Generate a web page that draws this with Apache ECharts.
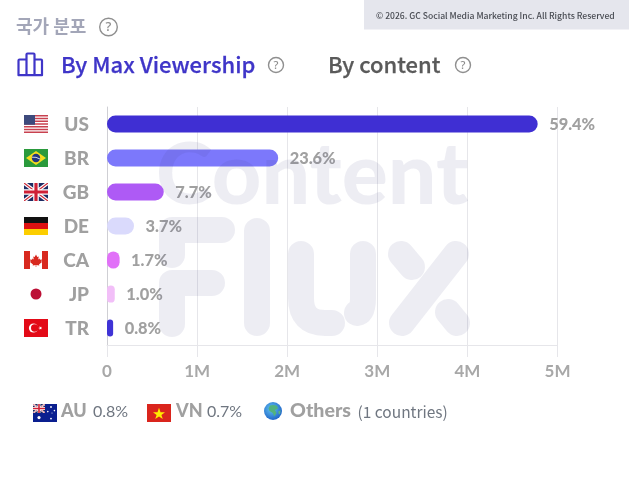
<!DOCTYPE html>
<html><head><meta charset="utf-8">
<style>html,body{margin:0;padding:0;background:#fff}#c{width:629px;height:481px}</style>
<script src="https://cdn.jsdelivr.net/npm/echarts@6/dist/echarts.min.js"></script>
</head><body><div id="c"></div>
<script>
const countries = ['US','BR','GB','DE','CA','JP','TR'];
const viewers = [4780000,1900000,630000,300000,140000,86000,68000];
const shares = ['59.4%','23.6%','7.7%','3.7%','1.7%','1.0%','0.8%'];
const barColors = ['#3f2fd3','#7c78fb','#ae5af5','#dadafc','#e171f8','#f2bff8','#3f33d6'];
const xTicks = ['0','1M','2M','3M','4M','5M'];
const otherCountries = ['AU','VN'];
const otherShares = ['0.8%','0.7%'];

const svg = (w,h,b)=>'data:image/svg+xml;charset=utf-8,'+encodeURIComponent(`<svg xmlns="http://www.w3.org/2000/svg" width="${w*4}" height="${h*4}" viewBox="0 0 ${w} ${h}">${b}</svg>`);
let usStripes='';for(let i=0;i<7;i++)usStripes+=`<rect y="${i*18/6.5}" width="24" height="${18/13}" fill="#c8414f"/>`;
const ukCross=`<rect width="24" height="18" fill="#1d2b63"/><path d="M0 0L24 18M24 0L0 18" stroke="#fff" stroke-width="3.6"/><path d="M0 0L24 18M24 0L0 18" stroke="#cf2b3a" stroke-width="1.2"/><path d="M12 0V18M0 9H24" stroke="#fff" stroke-width="5.6"/><path d="M12 0V18M0 9H24" stroke="#cf2036" stroke-width="3.2"/>`;
const flags = {
 US: svg(24,18,`<rect width="24" height="18" fill="#fff"/>${usStripes}<rect width="11" height="9.7" fill="#3d4a7c"/>`),
 BR: svg(24,18,`<rect width="24" height="18" fill="#2a9a3c"/><path d="M12 2L22 9L12 16L2 9Z" fill="#f4dc1e"/><circle cx="12" cy="9" r="4.2" fill="#23347f"/><path d="M8 8.2Q12 7.6 16 10" stroke="#fff" fill="none" stroke-width=".8"/>`),
 GB: svg(24,18,ukCross),
 DE: svg(24,18,`<rect width="24" height="6" fill="#111"/><rect y="6" width="24" height="6" fill="#dd1111"/><rect y="12" width="24" height="6" fill="#fcce00"/>`),
 CA: svg(24,18,`<rect width="24" height="18" fill="#fff"/><rect width="6" height="18" fill="#d8291f"/><rect x="18" width="6" height="18" fill="#d8291f"/><path d="M12 3.6L13.3 6L14.8 5.4L14.2 8.6L15.6 7.6L16 8.8L18 8.5L17.4 10.6L18 11L15 13.4L15.3 14.4L12.3 14L12.3 16H11.7L11.7 14L8.7 14.4L9 13.4L6 11L6.6 10.6L6 8.5L8 8.8L8.4 7.6L9.8 8.6L9.2 5.4L10.7 6Z" fill="#d8291f"/>`),
 JP: svg(24,18,`<rect width="24" height="18" fill="#fff"/><circle cx="12" cy="9" r="5.5" fill="#bc0f35"/>`),
 TR: svg(24,18,`<rect width="24" height="18" fill="#e30a17"/><circle cx="9.5" cy="9" r="4.6" fill="#fff"/><circle cx="10.7" cy="9" r="3.7" fill="#e30a17"/><path d="M14.2 9L18 7.8L15.7 11L15.7 7L18 10.2Z" fill="#fff"/>`),
 AU: svg(24,18,`<rect width="24" height="18" fill="#0a1f8f"/><svg width="12" height="9" viewBox="0 0 24 18">${ukCross}</svg><g fill="#fff"><circle cx="6" cy="13.6" r="1.6"/><circle cx="18" cy="3" r=".9"/><circle cx="18" cy="14.6" r=".9"/><circle cx="14.8" cy="7.6" r=".8"/><circle cx="21.4" cy="6.6" r=".8"/><circle cx="19" cy="9" r=".5"/></g>`),
 VN: svg(24,18,`<rect width="24" height="18" fill="#da251d"/><path d="M12 3.8L13.5 8.2H18L14.4 10.9L15.8 15L12 12.5L8.2 15L9.6 10.9L6 8.2H10.5Z" fill="#ffed00"/>`)
};
const globe = svg(18,18,`<defs><radialGradient id="g" cx=".42" cy=".38" r=".7"><stop offset="0" stop-color="#62c4f2"/><stop offset="1" stop-color="#1a5cc4"/></radialGradient></defs><circle cx="9" cy="9" r="9" fill="url(#g)"/><path d="M6 3.5Q10 2.4 13 4L14 6.5L11 8L12.5 11L10.4 14.5L8.8 11L5.5 9L4.5 6.5Z" fill="#52b27e"/><path d="M14.5 9L16.6 8.4L16 12.4L14.4 11.6Z" fill="#58b483"/>`);

echarts.graphic.registerShape('barIcon',echarts.graphic.extendPath('M18.5 75.2V60.5Q18.5 59.5 19.5 59.5H26.5V75.2ZM26.5 75.2V54.5Q26.5 53.5 27.5 53.5H33.5Q34.5 53.5 34.5 54.5V75.2ZM34.5 75.2V59.5H41Q42 59.5 42 60.5V75.2Z',{}));
echarts.graphic.registerShape('fluxMark',echarts.graphic.extendPath('M222 230H172V255M212 283H172V324M257 231V323M301 254V298Q301 323 325 323H332M363 254V298Q363 312 357 313M456 254L402 323M401 254L412 267M448 312L457 323',{}));

const rich = {code:{width:41,align:'right',fontFamily:'Lato',fontWeight:900,fontSize:19,color:'#a0a0a0',padding:[2,0,0,0]}};
countries.forEach(c=>rich[c]={width:24,height:18,backgroundColor:{image:flags[c]}});

const txt=(x,y,text,font,fill,extra)=>({type:'text',x,y,z:20,style:Object.assign({text,font,fill,textVerticalAlign:'middle',textAlign:'left'},extra||{})});
const help=(x,y,r,fs,c)=>[
 {type:'circle',z:20,shape:{cx:x,cy:y,r},style:{fill:'none',stroke:c,lineWidth:1.4}},
 txt(x,y+.5,'?',`500 ${fs}px "Noto Sans"`,c,{textAlign:'center'})];
const cjk='"Noto Sans CJK KR"';
const wmInk='rgba(60,60,130,0.095)';
const gfx=[
 {type:'rect',z:20,shape:{x:364,y:0,width:265,height:29.5},style:{fill:'#e5e6ed'}},
 txt(376,16,'© 2026. GC Social Media Marketing Inc. All Rights Reserved',`500 8.6px ${cjk}`,'#484b52'),
 txt(16,26,'국가 분포',`700 18px ${cjk}`,'#a3a6b8'),
 ...help(108.5,27,8.8,13,'#8f8f8f'),
 {type:'barIcon',z:20,style:{fill:'none',stroke:'#3f35c8',lineWidth:2.2,lineJoin:'round'}},
 txt(61,65,'By Max Viewership',`500 22px ${cjk}`,'#3f35c8',{stroke:'#3f35c8',lineWidth:.25}),
 ...help(276,65,7.5,11,'#8f8f8f'),
 txt(328,65,'By content',`500 22px ${cjk}`,'#5a5a5a',{stroke:'#5a5a5a',lineWidth:.25}),
 ...help(463,65,7.5,11,'#8f8f8f'),
 {type:'image',z:20,style:{image:flags[otherCountries[0]],x:33,y:404,width:24,height:18}},
 txt(61,411,otherCountries[0],'900 18px Lato','#a0a0a0'),
 txt(93,412,otherShares[0],'400 16px Lato','#6f7680'),
 {type:'image',z:20,style:{image:flags[otherCountries[1]],x:147,y:404,width:24,height:18}},
 txt(176,411,otherCountries[1],'900 18px Lato','#a0a0a0'),
 txt(207,412,otherShares[1],'400 16px Lato','#6f7680'),
 {type:'image',z:20,style:{image:globe,x:264,y:402,width:18,height:18}},
 txt(290,411,'Others','900 19.6px Lato','#a0a0a0'),
 txt(357.5,412,'(1 countries)',`400 15.5px ${cjk}`,'#6f7680'),
 Object.assign(txt(156,176,'Content','900 86px Lato',wmInk),{z:30}),
 {type:'fluxMark',z:30,style:{fill:'none',stroke:wmInk,lineWidth:26,lineCap:'round',lineJoin:'round'}}
];

const chart=echarts.init(document.getElementById('c'),null,{renderer:'canvas'});
chart.setOption({
 animation:false,
 grid:{left:107,top:107,width:450.5,height:238},
 xAxis:{type:'value',min:0,max:5000000,interval:1000000,
  axisLine:{show:true,lineStyle:{color:'#e6e6ea'}},
  axisTick:{show:true,length:12,lineStyle:{color:'#e6e6ea'}},
  splitLine:{show:true,lineStyle:{color:'#e6e6ea'}},
  axisLabel:{margin:18,fontFamily:'Lato',fontWeight:700,fontSize:17,color:'#a8a8a8',
   formatter:v=>xTicks[v/1000000]}},
 yAxis:{type:'category',inverse:true,data:countries,
  axisLine:{show:true,lineStyle:{color:'#cfcfd4'}},axisTick:{show:false},
  axisLabel:{margin:18,formatter:v=>`{${v}|}{code|${v}}`,rich}},
 series:[{type:'bar',barWidth:17,
  data:viewers.map((v,i)=>({value:v,itemStyle:{color:barColors[i],borderRadius:[8.5,8.5,8.5,8.5]}})),
  label:{show:true,position:'right',distance:11.5,offset:[0,1],fontFamily:'Lato',fontWeight:900,fontSize:16.4,color:'#a0a0a0',
   formatter:p=>shares[p.dataIndex]}}],
 graphic:{elements:gfx}
});
</script></body></html>
